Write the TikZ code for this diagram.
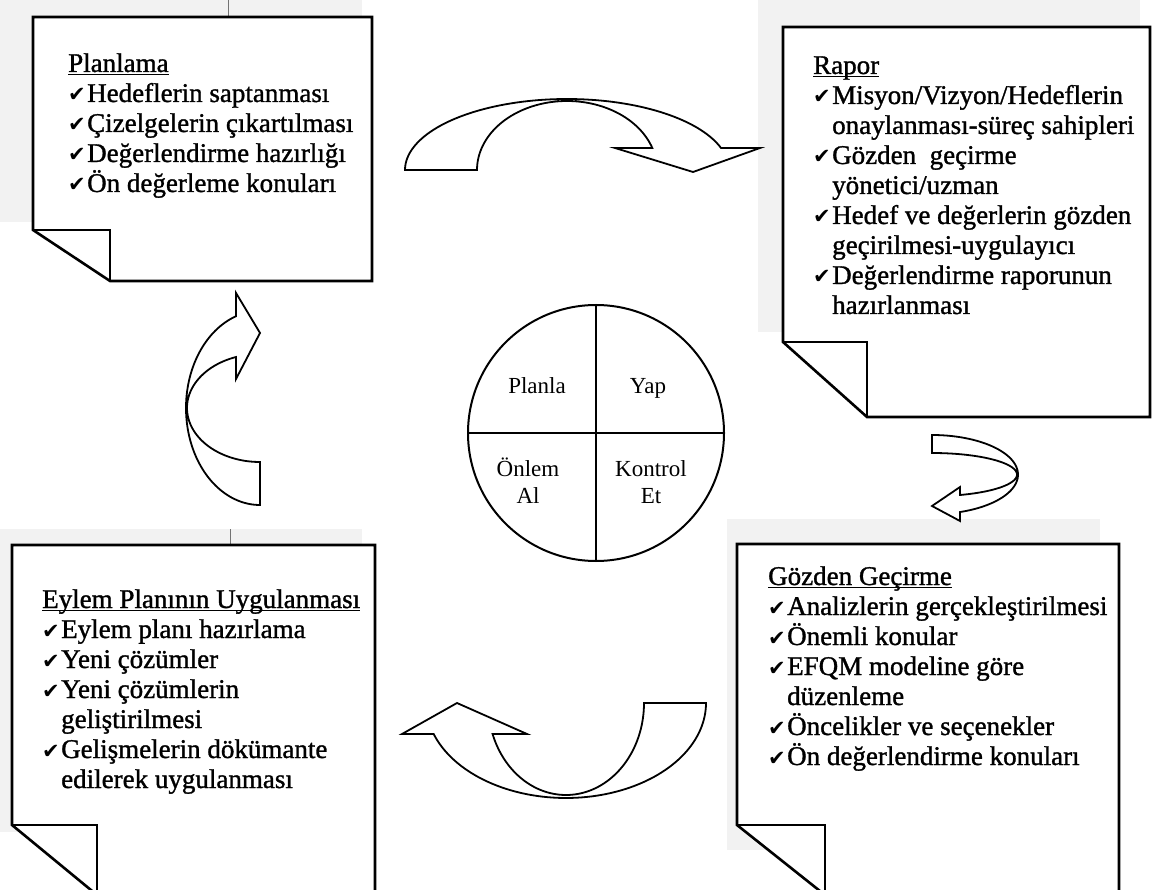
\documentclass[tikz,border=0pt]{standalone}
\usepackage{fontspec}
\setmainfont{Liberation Serif}
\newfontfamily\listfont{Liberation Serif}[FakeBold=1.2,AutoFakeBold=1.2]
\newfontfamily\plainserif{Liberation Serif}
\newfontfamily\symfont{DejaVu Sans}
% check mark in front of each list item, and the indent of a wrapped line
\newcommand{\ck}{\makebox[19pt][l]{\symfont\fontsize{21}{21}\selectfont ✔}}
\newcommand{\cont}{\hspace*{19pt}}
% underlined heading of a sheet
\newcommand{\ulhead}[1]{\setbox0=\hbox{#1}\rlap{\rule[-3pt]{\wd0}{1.3pt}}\box0}
% a stack of lines whose baseline is the first line
\newcommand{\itemlines}[1]{\vtop{\baselineskip=30pt #1}}
\newcommand{\twolines}[2]{\vtop{\baselineskip=27pt\halign{\hfil##\hfil\cr#1\cr#2\cr}}}

\begin{document}
\begin{tikzpicture}[x=1pt,y=-1pt,
  scanband/.style={fill=black!5, draw=none},
  sheet/.style={draw, line width=2.6pt, fill=white, line join=miter},
  foldline/.style={draw, line width=2.4pt},
  bendarrow/.style={draw, line width=1.8pt, fill=white, line join=miter},
  listtext/.style={anchor=base west, inner sep=0pt, font=\listfont\fontsize{27}{30}\selectfont},
  quarter/.style={anchor=base, inner sep=0pt, font=\plainserif\fontsize{23}{27}\selectfont}]

\useasboundingbox (0,0) rectangle (1154,890);

% grey shading behind the sheets
\fill[scanband] (0,0) rectangle (362,222);
\fill[scanband] (758,0) rectangle (1140,332);
\fill[scanband] (0,529) rectangle (362,832);
\fill[scanband] (727,519) rectangle (1100,850);
\draw[black!55, line width=0.8pt] (228,0) -- (228,17);
\draw[black!55, line width=0.8pt] (230,529) -- (230,545);

% sheets with a folded lower-left corner
\draw[sheet] (33,17) -- (372,17) -- (372,281) -- (110,281) -- (33,230) -- cycle;
\draw[foldline] (33,230) -- (110,230) -- (110,281);

\draw[sheet] (783,27) -- (1150,27) -- (1150,417) -- (867,417) -- (783,342) -- cycle;
\draw[foldline] (783,342) -- (867,342) -- (867,417);

\draw[sheet] (12,545) -- (375,545) -- (375,895) -- (97,895) -- (12,825) -- cycle;
\draw[foldline] (12,825) -- (97,825) -- (97,895);

\draw[sheet] (737,544) -- (1119,544) -- (1119,895) -- (825,895) -- (737,825) -- cycle;
\draw[foldline] (737,825) -- (825,825) -- (825,895);

% sheet texts
\node[listtext] (plan) at (68,72) {\itemlines{%
  \hbox{\ulhead{Planlama}}
  \hbox{\ck Hedeflerin saptanması}
  \hbox{\ck Çizelgelerin çıkartılması}
  \hbox{\ck Değerlendirme hazırlığı}
  \hbox{\ck Ön değerleme konuları}}};

\node[listtext] (rapor) at (813,74) {\itemlines{%
  \hbox{\ulhead{Rapor}}
  \hbox{\ck Misyon/Vizyon/Hedeflerin}
  \hbox{\cont onaylanması-süreç sahipleri}
  \hbox{\ck Gözden\ \ geçirme}
  \hbox{\cont yönetici/uzman}
  \hbox{\ck Hedef ve değerlerin gözden}
  \hbox{\cont geçirilmesi-uygulayıcı}
  \hbox{\ck Değerlendirme raporunun}
  \hbox{\cont hazırlanması}}};

\node[listtext] (eylem) at (42,608) {\itemlines{%
  \hbox{\ulhead{Eylem Planının Uygulanması}}
  \hbox{\ck Eylem planı hazırlama}
  \hbox{\ck Yeni çözümler}
  \hbox{\ck Yeni çözümlerin}
  \hbox{\cont geliştirilmesi}
  \hbox{\ck Gelişmelerin dökümante}
  \hbox{\cont edilerek uygulanması}}};

\node[listtext] (gozden) at (768,585) {\itemlines{%
  \hbox{\ulhead{Gözden Geçirme}}
  \hbox{\ck Analizlerin gerçekleştirilmesi}
  \hbox{\ck Önemli konular}
  \hbox{\ck EFQM modeline göre}
  \hbox{\cont düzenleme}
  \hbox{\ck Öncelikler ve seçenekler}
  \hbox{\ck Ön değerlendirme konuları}}};

% PDCA circle
\node[circle, draw, line width=2pt, minimum size=256pt, inner sep=0pt] (pdca) at (596,433) {};
\draw[line width=2pt] (pdca.north) -- (pdca.south);
\draw[line width=2pt] (pdca.west) -- (pdca.east);
\node[quarter] (planla) at (537,394) {Planla};
\node[quarter] (yap) at (648,394) {Yap};
\node[quarter] (onlem) at (528,476) {\twolines{Önlem}{Al}};
\node[quarter] (kontrol) at (651,476) {\twolines{Kontrol}{Et}};

% curved block arrows between the sheets
\draw[bendarrow] plot[domain=-180:-18.05,samples=80] ({567+162*cos(\x)},{170+71*sin(\x)})
  -- (760,148) -- (693,172) -- (615,148)
  -- plot[domain=-18.6:-180,samples=80] ({567+90*cos(\x)},{170+69*sin(\x)}) -- cycle;

\draw[bendarrow] plot[domain=-90:71.05,samples=80] ({932+86*cos(\x)},{474.6+39.6*sin(\x)})
  -- (960,521) -- (932,506) -- (960,487)
  -- plot[domain=70.77:-90,samples=80] ({932+85*cos(\x)},{474.6+21.6*sin(\x)}) -- cycle;

\draw[bendarrow] plot[domain=0:160.96,samples=80] ({566+140*cos(\x)},{703+95*sin(\x)})
  -- (402,734) -- (457,703) -- (527,734)
  -- plot[domain=160.3:0,samples=80] ({566+78*cos(\x)},{703+92*sin(\x)}) -- cycle;

\draw[bendarrow] plot[domain=90:251.1,samples=80] ({260+74*cos(\x)},{408+97*sin(\x)})
  -- (236,293) -- (260,333) -- (236,379)
  -- plot[domain=250.8:90,samples=80] ({260+73*cos(\x)},{408+54*sin(\x)}) -- cycle;

\end{tikzpicture}
\end{document}
